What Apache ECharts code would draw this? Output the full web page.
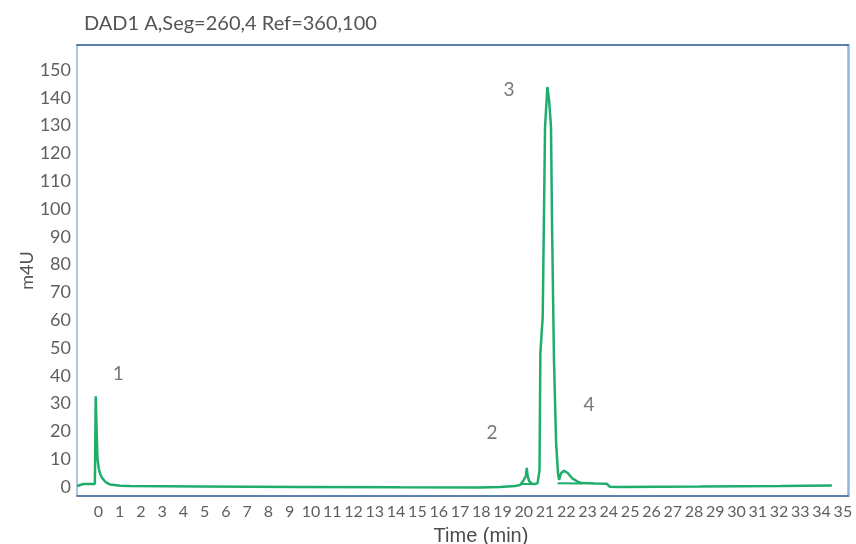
<!DOCTYPE html>
<html>
<head>
<meta charset="utf-8">
<script src="https://cdn.jsdelivr.net/npm/echarts@6/dist/echarts.min.js"></script>
<style>
    html, body { margin: 0; padding: 0; background: #fff; }
    #chart { width: 856px; height: 544px; }
</style>
</head>
<body>
<div id="chart"></div>
<script>
// signal trace (time in min, response in m4U)
const signalTime = [
    -0.99, -0.70, -0.16, -0.12, -0.09, -0.04, 0.02, 0.09, 0.19, 0.33, 0.56, 1.03,
    1.5, 4.79, 9.49, 14.19, 17.95, 18.89, 19.59, 19.83, 19.97, 20.1, 20.14, 20.18,
    20.25, 20.39, 20.53, 20.65, 20.74, 20.78, 20.89, 21.0, 21.11, 21.19, 21.28,
    21.33, 21.42, 21.52, 21.61, 21.66, 21.75, 21.89, 22.08, 22.27, 22.55, 22.74,
    23.35, 23.9, 24.05, 24.52, 28.28, 32.04, 34.48,
]
const signalValue = [
    0.4, 1.1, 1.1, 32.7, 24.1, 10.4, 6.8, 4.7, 3.2, 1.9, 0.9, 0.45,
    0.36, 0.25, 0.07, -0.07, -0.1, 0.07, 0.43, 0.72, 2.2, 4.0, 6.9, 4.0,
    2.2, 1.15, 1.08, 1.44, 6.1, 48.2, 61.2, 129.5, 143.9, 139.2, 129.5,
    93.5, 45.7, 15.8, 5.0, 2.6, 5.0, 5.9, 5.0, 3.2, 1.9, 1.44,
    1.26, 1.2, 0.1, 0.07, 0.18, 0.36, 0.54,
]

// integration baselines under peaks 2 and 4
const base2Time = [19.83, 20.39]
const base2Value = [1.1, 1.1]
const base4Time = [21.59, 22.79]
const base4Value = [1.4, 1.3]

// peak numbers
const peakNames = ['1', '2', '3', '4']
const peakTime = [0.94, 18.51, 19.31, 23.07]
const peakValue = [40.6, 19.4, 142.8, 29.5]

const xTicks = Array.from({ length: 36 }, (_, i) => i)
const yTicks = [0, 10, 20, 30, 40, 50, 60, 70, 80, 90, 100, 110, 120, 130, 140, 150]

const xMin = -1
const xMax = 35.24
const yMin = -3.2
const yMax = 159

const green = '#1fad6b'
const darkBlue = '#2a5897'
const lightBlue = '#93b3da'
const labelColor = '#5f5f5f'

const toPairs = (xs, ys) => xs.map((x, i) => [x, ys[i]])

const chart = echarts.init(document.getElementById('chart'))

chart.setOption({
    animation: false,
    title: {
        text: 'DAD1 A,Seg=260,4 Ref=360,100',
        left: 79,
        top: 9,
        textStyle: {
            fontFamily: 'Lato',
            fontSize: 20,
            fontWeight: 'normal',
            color: '#555',
        },
    },
    grid: {
        left: 77,
        right: 8,
        top: 45,
        bottom: 48,
        containLabel: false,
        outerBoundsMode: 'none',
    },
    xAxis: [
        {
            type: 'value',
            min: xMin,
            max: xMax,
            name: 'Time (min)',
            nameLocation: 'middle',
            nameGap: 30,
            nameMoveOverlap: false,
            nameTextStyle: {
                fontFamily: 'Liberation Sans',
                fontSize: 20,
                color: '#4a4a4a',
                padding: [0, 0, 0, 37],
            },
            axisLine: { onZero: false, lineStyle: { color: darkBlue, width: 1.5 } },
            axisTick: { show: false },
            splitLine: { show: false },
            axisLabel: {
                customValues: xTicks,
                margin: 8,
                fontFamily: 'Lato',
                fontSize: 16,
                color: labelColor,
            },
        },
        {
            type: 'value',
            position: 'top',
            min: xMin,
            max: xMax,
            axisLine: { onZero: false, lineStyle: { color: darkBlue, width: 1.5 } },
            axisTick: { show: false },
            axisLabel: { show: false },
            splitLine: { show: false },
        },
    ],
    yAxis: [
        {
            type: 'value',
            min: yMin,
            max: yMax,
            name: 'm4U',
            nameLocation: 'middle',
            nameGap: 41,
            nameMoveOverlap: false,
            nameTextStyle: {
                fontFamily: 'Lato',
                fontSize: 18,
                color: '#555',
            },
            axisLine: { show: true, onZero: false, lineStyle: { color: lightBlue, width: 1.5 } },
            axisTick: { show: false },
            splitLine: { show: false },
            axisLabel: {
                customValues: yTicks,
                margin: 6,
                fontFamily: 'Lato',
                fontSize: 18,
                color: labelColor,
            },
        },
        {
            type: 'value',
            position: 'right',
            min: yMin,
            max: yMax,
            axisLine: { show: true, onZero: false, lineStyle: { color: lightBlue, width: 2.5 } },
            axisTick: { show: false },
            axisLabel: { show: false },
            splitLine: { show: false },
        },
    ],
    series: [
        {
            type: 'line',
            data: toPairs(signalTime, signalValue),
            showSymbol: false,
            lineStyle: { color: green, width: 2.5 },
            z: 3,
        },
        {
            type: 'line',
            data: toPairs(base2Time, base2Value),
            showSymbol: false,
            lineStyle: { color: green, width: 2 },
        },
        {
            type: 'line',
            data: toPairs(base4Time, base4Value),
            showSymbol: false,
            lineStyle: { color: green, width: 2 },
        },
        {
            type: 'scatter',
            data: toPairs(peakTime, peakValue),
            symbolSize: 0,
            label: {
                show: true,
                position: 'inside',
                formatter: (p) => peakNames[p.dataIndex],
                fontFamily: 'Lato',
                fontSize: 19,
                color: '#555',
            },
        },
    ],
})
</script>
</body>
</html>
